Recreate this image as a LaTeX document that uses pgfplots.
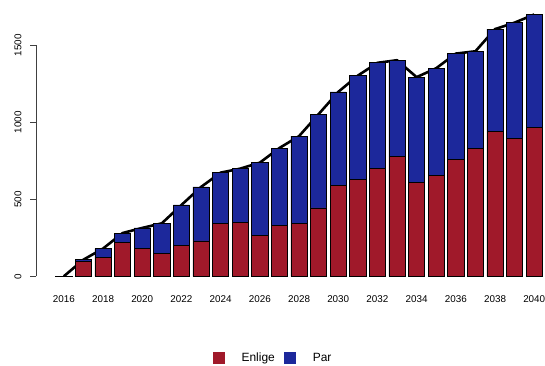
\documentclass[border=0pt]{standalone}
\usepackage{pgfplots}
\pgfplotsset{compat=1.18}
\usepackage{pgfplotstable}
\usepackage{fontspec}
\setmainfont{Liberation Sans}

\definecolor{enlige}{RGB}{160,25,42}
\definecolor{par}{RGB}{28,40,155}

% year, singles (Enlige), couples (Par), total
\pgfplotstableread{
year enlige par total
2016 1   0   0
2017 95  13  108
2018 123 57  180
2019 222 59  281
2020 183 131 314
2021 149 195 344
2022 198 265 463
2023 230 350 580
2024 342 331 673
2025 349 350 699
2026 264 474 738
2027 333 500 833
2028 346 564 910
2029 444 609 1053
2030 590 607 1197
2031 629 674 1303
2032 698 688 1386
2033 776 627 1403
2034 612 681 1293
2035 657 694 1351
2036 759 687 1446
2037 832 629 1461
2038 938 667 1605
2039 893 754 1647
2040 967 733 1700
}\datatable

\begin{document}
\begin{tikzpicture}
\useasboundingbox (0,0) rectangle (545bp,366bp);
\begin{axis}[
  at={(36bp,89.7bp)}, anchor=south west,
  scale only axis,
  width=509bp, height=276.3bp,
  xmin=2014.58, xmax=2040.55,
  ymin=0, ymax=1794,
  ybar stacked,
  bar width=0.833,
  axis x line*=bottom, axis y line*=left,
  axis line style={draw=none},
  xtick={2016,2018,...,2040},
  ytick={0,500,1000,1500},
  xtick style={draw=none},
  ytick style={black!75, line width=0.6bp},
  tick align=outside,
  major tick length=6bp,
  /pgf/number format/assume math mode=true,
  /pgf/number format/set thousands separator={},
  tick label style={font=\fontsize{9.9}{11}\selectfont},
  xticklabel style={yshift=-10bp},
  yticklabel style={rotate=90, anchor=south, yshift=5bp},
  legend image code/.code={\draw[#1,draw=none] (0bp,-6bp) rectangle (12bp,6bp);
    \path[draw=none,fill=none] (0bp,0bp) -- (27bp,0bp);},
  legend style={at={(axis description cs:0.4656,-0.263)}, anchor=north,
    draw=none, fill=none, legend columns=2,
    font=\fontsize{12}{14}\selectfont,
    /tikz/every even column/.append style={column sep=7bp}},
]
\addplot[fill=enlige, draw=black, line width=0.7bp] table[x=year,y=enlige]{\datatable};
\addlegendentry{Enlige}
\addplot[fill=par, draw=black, line width=0.7bp] table[x=year,y=par]{\datatable};
\addlegendentry{Par}
\addplot[black, line width=2.6bp, stack plots=false, sharp plot, no markers,
  line join=round, forget plot] table[x=year,y=total]{\datatable};
\draw[black!75, line width=0.6bp] (axis cs:2014.58,0) -- (axis cs:2014.58,1500);
\end{axis}
\end{tikzpicture}
\end{document}
